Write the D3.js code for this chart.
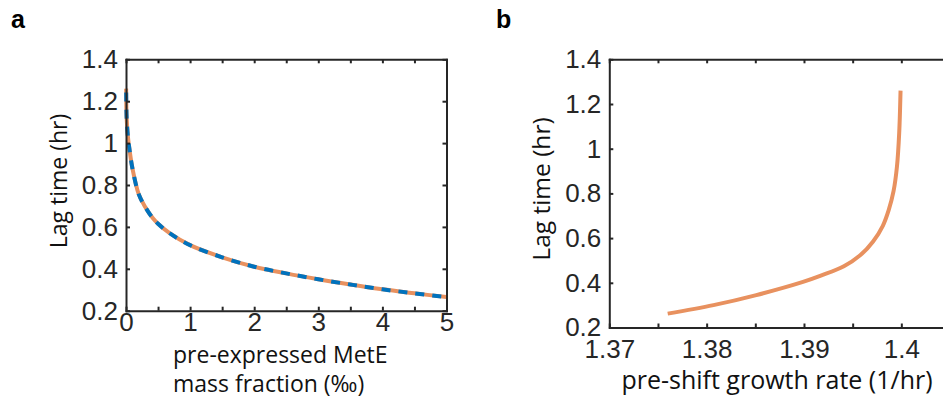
<!DOCTYPE html>
<html>
<head>
<meta charset="utf-8">
<script src="https://cdn.jsdelivr.net/npm/d3@7"></script>
<style>
  body { margin: 0; background: #fff; }
  svg { display: block; }
  .tick text { font-family: "Liberation Sans", Arial, sans-serif; fill: #262626; }
  .lbl { font-family: "Open Sans", sans-serif; fill: #111; }
</style>
</head>
<body>
<div id="chart"></div>
<script>
// panel a: lag time vs pre-expressed MetE mass fraction
var metE = [0.002, 0.01, 0.03, 0.05, 0.1, 0.2, 0.3, 0.42, 0.5, 0.68, 1, 1.5, 2, 2.5, 3, 3.5, 4, 4.5, 5];
var lagA = [1.26, 1.12, 1.03, 0.98, 0.88, 0.755, 0.695, 0.641, 0.615, 0.57, 0.513, 0.455, 0.41, 0.378, 0.35, 0.325, 0.302, 0.283, 0.265];

// panel b: lag time vs pre-shift growth rate
var rate = [1.3760, 1.3807, 1.3851, 1.3899, 1.3918, 1.3941, 1.3958, 1.3971, 1.3981, 1.3987, 1.3992, 1.39955, 1.39978, 1.39992];
var lagB = [0.262, 0.30, 0.345, 0.404, 0.433, 0.474, 0.524, 0.585, 0.655, 0.725, 0.81, 0.92, 1.07, 1.26];

var yTicks = [0.2, 0.4, 0.6, 0.8, 1, 1.2, 1.4];
var xTicksA = [0, 0.5, 1, 1.5, 2, 2.5, 3, 3.5, 4, 4.5, 5];
var xTicksB = [1.37, 1.375, 1.38, 1.385, 1.39, 1.395, 1.4, 1.405];

var axisColor = "#262626", orange = "#e8915f", blue = "#0072bd";

var svg = d3.select("#chart").append("svg")
  .attr("width", 943)
  .attr("height", 400);

function fmt(d) { return String(+d.toFixed(3)); }

function styleAxis(g) {
  g.selectAll("path").attr("stroke", axisColor).attr("stroke-width", 2);
  g.selectAll("line").attr("stroke", axisColor).attr("stroke-width", 2);
}

function panel(opt) {
  var x = d3.scaleLinear().domain(opt.xd).range([opt.left, opt.right]);
  var y = d3.scaleLinear().domain([0.2, 1.4]).range([opt.bottom, opt.top]);
  var g = svg.append("g");

  var line = d3.line()
    .x(function(d) { return x(d[0]); })
    .y(function(d) { return y(d[1]); })
    .curve(d3.curveCatmullRom.alpha(0.5));

  var pts = opt.xs.map(function(v, i) { return [v, opt.ys[i]]; });

  g.append("path").datum(pts)
    .attr("d", line)
    .attr("fill", "none")
    .attr("stroke", orange)
    .attr("stroke-width", 4);

  if (opt.dashed) {
    g.append("path").datum(pts)
      .attr("d", line)
      .attr("fill", "none")
      .attr("stroke", blue)
      .attr("stroke-width", 4)
      .attr("stroke-dasharray", "9,8")
      .attr("stroke-dashoffset", -4);
  }

  // box with inward ticks, like matlab
  g.append("g").attr("transform", "translate(0," + opt.bottom + ")")
    .call(d3.axisBottom(x).tickValues(opt.xt).tickFormat(function(d) {
      return opt.major(d) ? fmt(d) : "";
    }).tickSizeInner(-4).tickSizeOuter(0).tickPadding(opt.xpad))
    .call(styleAxis)
    .selectAll("text").style("font-size", "26px");

  g.append("g").attr("transform", "translate(0," + opt.top + ")")
    .call(d3.axisTop(x).tickValues(opt.xt).tickFormat("").tickSizeInner(-4).tickSizeOuter(0))
    .call(styleAxis);

  g.append("g").attr("transform", "translate(" + opt.left + ",0)")
    .call(d3.axisLeft(y).tickValues(yTicks).tickFormat(fmt).tickSizeInner(-4).tickSizeOuter(0).tickPadding(8))
    .call(styleAxis)
    .selectAll("text").style("font-size", "26px");

  g.append("g").attr("transform", "translate(" + opt.right + ",0)")
    .call(d3.axisRight(y).tickValues(yTicks).tickFormat("").tickSizeInner(-4).tickSizeOuter(0))
    .call(styleAxis);

  g.selectAll(".domain").attr("stroke-linecap", "square");

  return g;
}

var ga = panel({
  xd: [0, 5], left: 126, right: 446.5, top: 59.3, bottom: 310.7,
  xs: metE, ys: lagA, xt: xTicksA, dashed: true, xpad: 2,
  major: function(d) { return Math.abs(d - Math.round(d)) < 1e-6; }
});

var gb = panel({
  xd: [1.37, 1.405], left: 609.3, right: 950, top: 59.3, bottom: 327.5,
  xs: rate, ys: lagB, xt: xTicksB, dashed: false, xpad: 12,
  major: function(d) { return Math.abs(d * 100 - Math.round(d * 100)) < 1e-6 && d < 1.401; }
});

// panel letters
svg.append("text").attr("x", 11).attr("y", 28)
  .style("font-family", "Liberation Sans, Arial, sans-serif")
  .style("font-weight", "bold").style("font-size", "25px").text("a");
svg.append("text").attr("x", 496).attr("y", 28)
  .style("font-family", "Liberation Sans, Arial, sans-serif")
  .style("font-weight", "bold").style("font-size", "25px").text("b");

// axis labels
svg.append("text").attr("class", "lbl")
  .attr("transform", "translate(67,181) rotate(-90)")
  .attr("text-anchor", "middle").style("font-size", "23px")
  .text("Lag time (hr)");
svg.append("text").attr("class", "lbl")
  .attr("transform", "translate(550,189) rotate(-90)")
  .attr("text-anchor", "middle").style("font-size", "24.5px")
  .text("Lag time (hr)");

svg.append("text").attr("class", "lbl")
  .attr("x", 173).attr("y", 363).style("font-size", "23px")
  .text("pre-expressed MetE");
svg.append("text").attr("class", "lbl")
  .attr("x", 173).attr("y", 392).style("font-size", "23px")
  .text("mass fraction (\u2030)");

svg.append("text").attr("class", "lbl")
  .attr("x", 777).attr("y", 389).attr("text-anchor", "middle").style("font-size", "25px")
  .text("pre-shift growth rate (1/hr)");
</script>
</body>
</html>
